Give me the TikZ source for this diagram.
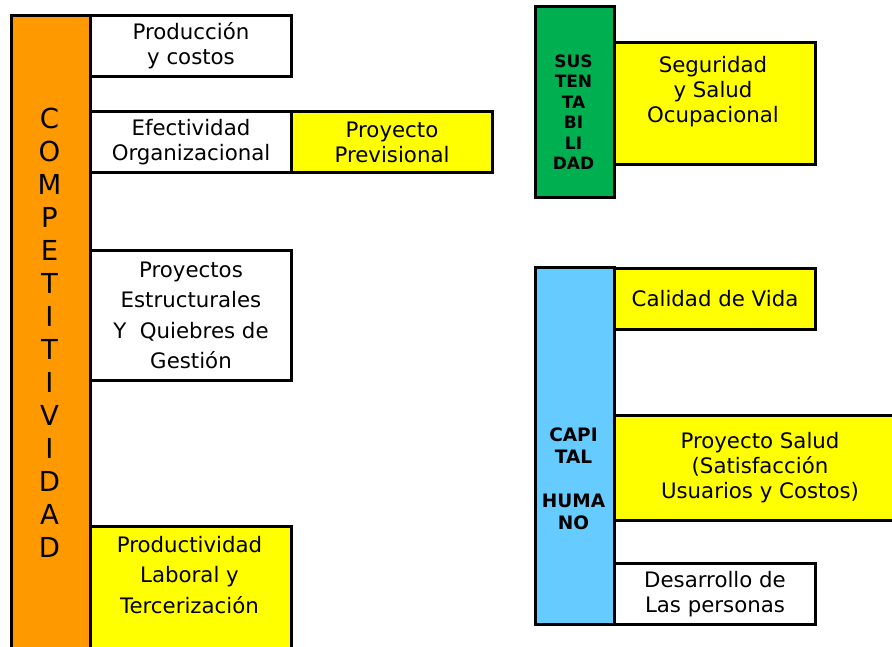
\documentclass[tikz,border=0pt]{standalone}
\usepackage{fontspec}
\setmainfont{DejaVu Sans}
\usetikzlibrary{positioning}
\definecolor{barorange}{HTML}{FF9900}
\definecolor{bargreen}{HTML}{00B050}
\definecolor{barblue}{HTML}{66CCFF}
\definecolor{boxyellow}{HTML}{FFFF00}

\begin{document}
\begin{tikzpicture}[x=1pt, y=-1pt, line join=miter,
	box/.style={draw=black, line width=3pt, rectangle, inner sep=0pt, anchor=north west, align=center, font=\fontsize{21.3}{25}\selectfont},
	txt/.style={inner sep=0pt, align=center, font=\fontsize{21.3}{25}\selectfont},
	bartxt/.style={inner sep=0pt, align=center, font=\bfseries\fontsize{17}{20.5}\selectfont}]
\useasboundingbox (0,0) rectangle (892,647);
\clip (0,0) rectangle (892,647);
%========================
% Left: competitividad
%========================
\node[box, fill=barorange, minimum width=79pt, minimum height=650pt] (comp) at (10,14) {};
\node[inner sep=0pt, align=center, font=\fontsize{27.5}{33}\selectfont] (compTxt) at (49.5,333)
	{C\\O\\M\\P\\E\\T\\I\\T\\I\\V\\I\\D\\A\\D};

\node[box, fill=white, minimum width=201pt, minimum height=61pt] (prod) at (89,14) {Producción\\y costos};
\node[box, fill=white, minimum width=201pt, minimum height=61pt] (efec) at (89,110) {Efectividad\\Organizacional};
\node[box, fill=boxyellow, minimum width=201pt, minimum height=61pt] (prev) at (290,110) {Proyecto\\Previsional};
\node[box, fill=white, minimum width=201pt, minimum height=130pt,
	font=\fontsize{21.3}{30.5}\selectfont] (estr) at (89,249) {Proyectos\\Estructurales\\Y\ \ Quiebres de\\Gestión};
\node[box, fill=boxyellow, minimum width=201pt, minimum height=140pt] (lab) at (89,525) {};
\node[txt, font=\fontsize{21.3}{30.5}\selectfont] (labTxt) at (189.5,575) {Productividad\\Laboral y\\Tercerización};

%========================
% Right: sustentabilidad
%========================
\node[box, fill=bargreen, minimum width=79pt, minimum height=191pt] (sust) at (534,5) {};
\node[bartxt] (sustTxt) at (573.5,112) {SUS\\TEN\\TA\\BI\\LI\\DAD};
\node[box, fill=boxyellow, minimum width=201pt, minimum height=122pt] (segu) at (613,41) {};
\node[txt] (seguTxt) at (713,92) {Seguridad\\y Salud\\Ocupacional};

%========================
% Right: capital humano
%========================
\node[box, fill=barblue, minimum width=79pt, minimum height=357pt] (capi) at (534,266) {};
\node[bartxt, font=\bfseries\fontsize{18.5}{22}\selectfont] (capiTxt) at (573.5,479) {CAPI\\TAL\\[22pt]HUMA\\NO};
\node[box, fill=boxyellow, minimum width=201pt, minimum height=61pt] (cali) at (613,267) {Calidad de Vida};
\node[box, fill=boxyellow, minimum width=300pt, minimum height=105pt] (salu) at (613,414) {};
\node[txt] (saluTxt) at (760,468) {Proyecto Salud\\(Satisfacción\\Usuarios y Costos)};
\node[box, fill=white, minimum width=201pt, minimum height=61pt] (desa) at (613,562) {Desarrollo de\\Las personas};
\end{tikzpicture}
\end{document}
